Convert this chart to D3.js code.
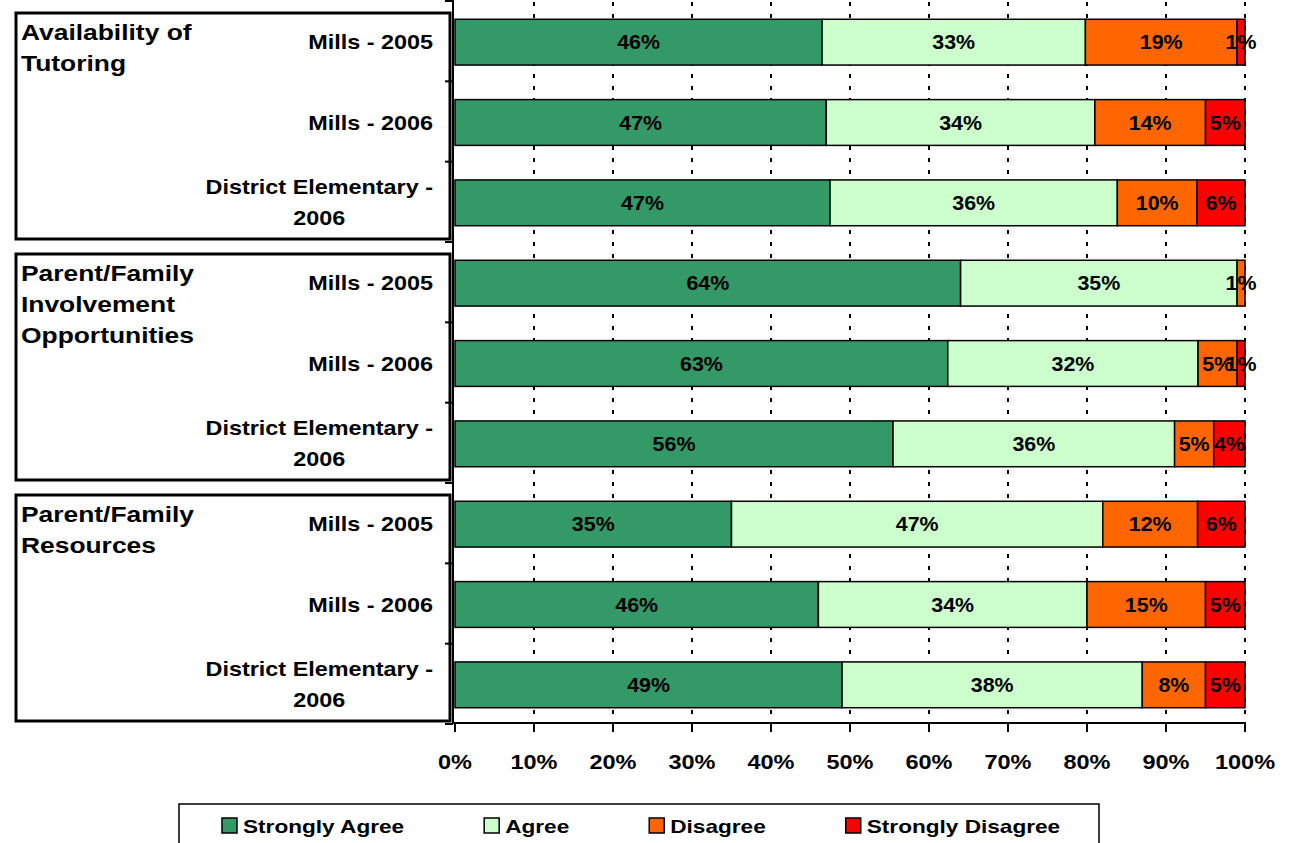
<!DOCTYPE html>
<html>
<head>
<meta charset="utf-8">
<script src="https://cdn.jsdelivr.net/npm/d3@7"></script>
<style>
  body { margin: 0; background: #fff; }
  svg { display: block; font-family: "Liberation Sans", Arial, sans-serif; font-weight: bold; }
</style>
</head>
<body>
<script>

// data (percent, 100% stacked)
var groupTitles = [["Availability of", "Tutoring"],
                   ["Parent/Family", "Involvement", "Opportunities"],
                   ["Parent/Family", "Resources"]];
var categoryLines = [["Mills - 2005"], ["Mills - 2006"], ["District Elementary -", "2006"]];
var seriesNames = ["Strongly Agree", "Agree", "Disagree", "Strongly Disagree"];
var seriesColors = ["#339966", "#CCFFCC", "#FF6600", "#FF0000"];

var stronglyAgree    = [46, 47, 47, 64, 63, 56, 35, 46, 49];
var agree            = [33, 34, 36, 35, 32, 36, 47, 34, 38];
var disagree         = [19, 14, 10,  1,  5,  5, 12, 15,  8];
var stronglyDisagree = [ 1,  5,  6,  0,  1,  4,  6,  5,  5];

var xTickValues = [0, 10, 20, 30, 40, 50, 60, 70, 80, 90, 100];

var width = 1289, height = 843;
var SX = 1.17; // text in the picture is a bit wider than Arial

var svg = d3.select("body").append("svg").attr("width", width).attr("height", height);

// rows table
var rows = [];
stronglyAgree.forEach(function(v, i) {
  rows.push({
    id: i,
    group: Math.floor(i / 3),
    cat: i % 3,
    "Strongly Agree": v,
    "Agree": agree[i],
    "Disagree": disagree[i],
    "Strongly Disagree": stronglyDisagree[i]
  });
});

var x = d3.scaleLinear().domain([0, 1]).range([455, 1245]);
var y = d3.scaleBand().domain(rows.map(function(d) { return d.id; }))
    .range([0, 723]).paddingInner(0.43).paddingOuter(0.215);
var step = y.step();
var barOff = 2;

var stack = d3.stack().keys(seriesNames).offset(d3.stackOffsetExpand);
var stacked = stack(rows);

function txt(parent, px, py, s, size, anchor, sx) {
  return parent.append("text")
    .attr("transform", "translate(" + px + "," + py + ") scale(" + (sx || SX) + ",1)")
    .attr("text-anchor", anchor || "start")
    .attr("dy", "0.35em")
    .style("font-size", size + "px")
    .attr("fill", "#000")
    .text(s);
}

// dotted gridlines
svg.append("g").selectAll("line")
  .data(xTickValues.slice(1))
  .enter().append("line")
    .attr("x1", function(d) { return x(d / 100); })
    .attr("x2", function(d) { return x(d / 100); })
    .attr("y1", 2).attr("y2", 723)
    .attr("stroke", "#000")
    .attr("stroke-width", 2)
    .attr("stroke-dasharray", "4,8");

// group boxes
groupTitles.forEach(function(lines, gi) {
  var top = gi * 3 * step + 13;
  var bottom = (gi + 1) * 3 * step - 2;
  svg.append("rect")
    .attr("x", 16).attr("y", top)
    .attr("width", 434).attr("height", bottom - top)
    .attr("fill", "none").attr("stroke", "#000").attr("stroke-width", 3);
  lines.forEach(function(l, li) {
    txt(svg, 21, top + 19 + li * 31, l, 22, "start", 1.2);
  });
});

// bars
var layer = svg.append("g").selectAll("g")
  .data(stacked)
  .enter().append("g")
    .attr("fill", function(d, i) { return seriesColors[i]; });

layer.selectAll("rect")
  .data(function(d) { return d; })
  .enter().append("rect")
    .attr("x", function(d) { return x(d[0]); })
    .attr("y", function(d) { return y(d.data.id) + barOff; })
    .attr("width", function(d) { return x(d[1]) - x(d[0]); })
    .attr("height", y.bandwidth())
    .attr("stroke", "#000")
    .attr("stroke-width", 1.5);

// data labels
var lab = svg.append("g");
stacked.forEach(function(s) {
  s.forEach(function(d) {
    var v = d.data[s.key];
    if (!v) return;
    txt(lab, (x(d[0]) + x(d[1])) / 2, y(d.data.id) + barOff + y.bandwidth() / 2, v + "%", 20, "middle", 1.07);
  });
});

// value axis
svg.append("line").attr("x1", 453).attr("x2", 1246).attr("y1", 723).attr("y2", 723)
  .attr("stroke", "#000").attr("stroke-width", 2);
xTickValues.forEach(function(v) {
  svg.append("line").attr("x1", x(v / 100)).attr("x2", x(v / 100)).attr("y1", 723).attr("y2", 732)
    .attr("stroke", "#000").attr("stroke-width", 2);
  txt(svg, x(v / 100), 762, v + "%", 21, "middle", 1.12);
});

// category axis
svg.append("line").attr("x1", 453).attr("x2", 453).attr("y1", 0).attr("y2", 724)
  .attr("stroke", "#000").attr("stroke-width", 2);
d3.range(10).forEach(function(i) {
  svg.append("line").attr("x1", 445).attr("x2", 453).attr("y1", i * step + 1).attr("y2", i * step + 1)
    .attr("stroke", "#000").attr("stroke-width", 2);
});

rows.forEach(function(d) {
  var lines = categoryLines[d.cat];
  var cy = y(d.id) + barOff + y.bandwidth() / 2;
  if (lines.length === 1) {
    txt(svg, 433, cy, lines[0], 20, "end");
  } else {
    var t1 = txt(svg, 433, cy - 16, lines[0], 20, "end");
    var w1 = t1.node().getBoundingClientRect().width;
    txt(svg, 433 - w1 / 2, cy + 15, lines[1], 20, "middle");
  }
});

// legend
var legend = svg.append("g");
legend.append("rect")
  .attr("x", 179).attr("y", 804).attr("width", 920).attr("height", 60)
  .attr("fill", "#fff").attr("stroke", "#000").attr("stroke-width", 1.5);
var lx = 222;
seriesNames.forEach(function(name, i) {
  legend.append("rect")
    .attr("x", lx).attr("y", 818).attr("width", 15).attr("height", 15)
    .attr("fill", seriesColors[i]).attr("stroke", "#000").attr("stroke-width", 1.5);
  var t = txt(legend, lx + 21, 826, name, 19, "start", 1.19);
  lx += 21 + t.node().getBoundingClientRect().width + 80;
});

</script>
</body>
</html>
